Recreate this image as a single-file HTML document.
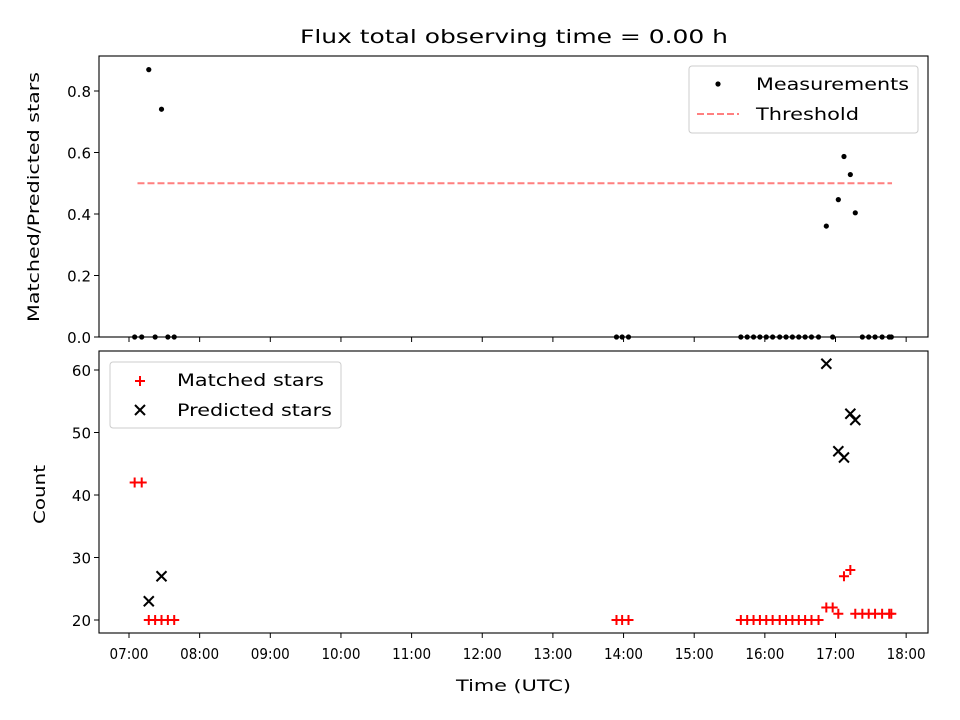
<!DOCTYPE html>
<html><head><meta charset="utf-8"><style>
html,body{margin:0;padding:0;background:#fff}
svg{display:block;font-family:"DejaVu Sans","Liberation Sans",sans-serif}
</style></head><body>
<svg id="chart" width="960" height="720" viewBox="0 0 960 720" xmlns="http://www.w3.org/2000/svg">
<text x="300" y="43" font-size="19" textLength="428" lengthAdjust="spacingAndGlyphs">Flux total observing time = 0.00 h</text>
<g id="top"></g><g id="bot"></g>
</svg>
<script>
const times = [7.08,7.18,7.28,7.37,7.46,7.55,7.64,13.90,13.98,14.07,15.66,15.75,15.84,15.93,16.02,16.11,16.21,16.30,16.39,16.48,16.57,16.66,16.76,16.87,16.96,17.04,17.12,17.21,17.28,17.38,17.47,17.56,17.66,17.76,17.79];
const matched = [42,42,20,20,20,20,20,20,20,20,20,20,20,20,20,20,20,20,20,20,20,20,20,22,22,21,27,28,21,21,21,21,21,21,21];
const predicted = [null,null,23,null,27,null,null,null,null,null,null,null,null,null,null,null,null,null,null,null,null,null,null,61,null,47,46,53,52,null,null,null,null,null,null];
const threshold = 0.5;
const thresholdRange = [7.12, 17.80];
const xTickLabels = ["07:00","08:00","09:00","10:00","11:00","12:00","13:00","14:00","15:00","16:00","17:00","18:00"];
const xTickHours = [7,8,9,10,11,12,13,14,15,16,17,18];
const topTicks = [0,0.2,0.4,0.6,0.8];
const botTicks = [20,30,40,50,60];

const NS="http://www.w3.org/2000/svg";
const L=99,R=928;
const x=t=>129+(t-7)*70.65;
const T={top:56,bot:337}, B={top:351,bot:633};
const yTop=v=>337-v*307.5;
const yBot=v=>620-(v-20)*6.25;
function mk(p,tag,a,name){const e=document.createElementNS(NS,tag);for(const k in a)e.setAttribute(k,a[k]);


p.appendChild(e);return e;}
const gt=document.getElementById('top'), gb=document.getElementById('bot');
function frame(g,P,ticks,yf,fmt,labels,pref){
  mk(g,'rect',{x:L,y:P.top,width:R-L,height:P.bot-P.top,fill:'none',stroke:'#000','stroke-width':1.1},pref+'-frame');
  ticks.forEach(v=>{const yy=yf(v);
    mk(g,'line',{x1:L-5,x2:L,y1:yy,y2:yy,stroke:'#000'},pref+'-y-tick');
    const t=mk(g,'text',{x:L-8,y:yy+6,'font-size':15,'text-anchor':'end'},pref+'-y-tick-label');t.textContent=fmt(v);});
  xTickHours.forEach((h,i)=>{const xx=x(h);
    mk(g,'line',{x1:xx,x2:xx,y1:P.bot,y2:P.bot+5,stroke:'#000'},pref+'-x-tick');
    if(labels){const t=mk(g,'text',{x:xx-19.5,y:P.bot+26,'font-size':15,textLength:39,lengthAdjust:'spacingAndGlyphs'},'x-tick-label');t.textContent=xTickLabels[i];}});
}
frame(gt,T,topTicks,yTop,v=>v.toFixed(1),false,'top');
frame(gb,B,botTicks,yBot,v=>String(v),true,'bottom');
let t=mk(gt,'text',{transform:'translate(39,322) rotate(-90)','font-size':16,textLength:250,lengthAdjust:'spacingAndGlyphs'},'top-y-axis-title');t.textContent='Matched/Predicted stars';
t=mk(gb,'text',{transform:'translate(45,524) rotate(-90)','font-size':16,textLength:59,lengthAdjust:'spacingAndGlyphs'},'bottom-y-axis-title');t.textContent='Count';
t=mk(gb,'text',{x:456,y:691,'font-size':16,textLength:115,lengthAdjust:'spacingAndGlyphs'},'x-axis-title');t.textContent='Time (UTC)';
mk(gt,'line',{x1:x(thresholdRange[0]),x2:x(thresholdRange[1]),y1:yTop(threshold),y2:yTop(threshold),stroke:'#ff7f7f','stroke-width':2,'stroke-dasharray':'7,3'},'threshold-line');
times.forEach((tt,i)=>{const r=predicted[i]?matched[i]/predicted[i]:0;
  mk(gt,'circle',{cx:x(tt),cy:yTop(r),r:2.6,fill:'#000'},'measurement-point');});
times.forEach((tt,i)=>{const cx=x(tt),cy=yBot(matched[i]);
  mk(gb,'path',{d:`M${cx-5},${cy}H${cx+5}M${cx},${cy-5}V${cy+5}`,stroke:'#f00','stroke-width':2},'matched-point');});
times.forEach((tt,i)=>{if(predicted[i]==null)return;const cx=x(tt),cy=yBot(predicted[i]);
  mk(gb,'path',{d:`M${cx-5},${cy-5}L${cx+5},${cy+5}M${cx-5},${cy+5}L${cx+5},${cy-5}`,stroke:'#000','stroke-width':2},'predicted-point');});
mk(gt,'rect',{x:689,y:66,width:229,height:67,rx:3,fill:'#fff',stroke:'#ccc'},'top-legend');
mk(gt,'circle',{cx:718,cy:84,r:2.6,fill:'#000'},'legend-measurements-marker');
t=mk(gt,'text',{x:756,y:90,'font-size':16.5,textLength:153,lengthAdjust:'spacingAndGlyphs'},'legend-measurements');t.textContent='Measurements';
mk(gt,'line',{x1:697,x2:739,y1:114,y2:114,stroke:'#ff7f7f','stroke-width':2,'stroke-dasharray':'7,3'},'legend-threshold-marker');
t=mk(gt,'text',{x:756,y:120,'font-size':16.5,textLength:103,lengthAdjust:'spacingAndGlyphs'},'legend-threshold');t.textContent='Threshold';
mk(gb,'rect',{x:110,y:362,width:231,height:66,rx:3,fill:'#fff',stroke:'#ccc'},'bottom-legend');
mk(gb,'path',{d:'M135,381H145M140,376V386',stroke:'#f00','stroke-width':2},'legend-matched-marker');
t=mk(gb,'text',{x:177,y:386,'font-size':16.5,textLength:147,lengthAdjust:'spacingAndGlyphs'},'legend-matched');t.textContent='Matched stars';
mk(gb,'path',{d:'M135,405L145,415M135,415L145,405',stroke:'#000','stroke-width':2},'legend-predicted-marker');
t=mk(gb,'text',{x:177,y:416,'font-size':16.5,textLength:155,lengthAdjust:'spacingAndGlyphs'},'legend-predicted');t.textContent='Predicted stars';
</script>
</body></html>
